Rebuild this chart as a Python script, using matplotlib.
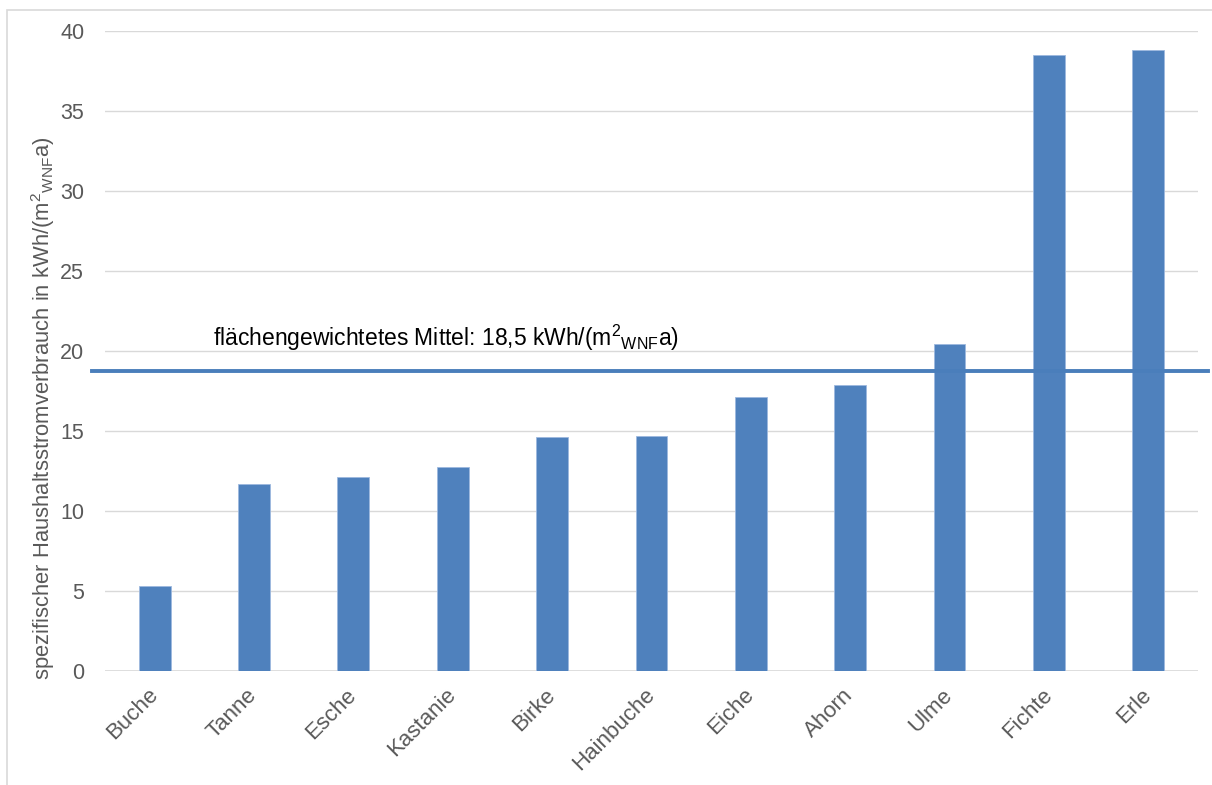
import matplotlib.pyplot as plt
from matplotlib.patches import Rectangle

plt.rcParams['font.family'] = ['Liberation Sans', 'DejaVu Sans']
plt.rcParams['mathtext.fontset'] = 'custom'
plt.rcParams['mathtext.rm'] = 'Liberation Sans'
plt.rcParams['mathtext.it'] = 'Liberation Sans'

# Werte
categories = ['Buche', 'Tanne', 'Esche', 'Kastanie', 'Birke', 'Hainbuche',
              'Eiche', 'Ahorn', 'Ulme', 'Fichte', 'Erle']
values = [5.3, 11.7, 12.1, 12.75, 14.6, 14.7, 17.1, 17.9, 20.45, 38.5, 38.8]
mean_value = 18.75
mean_label = r'flächengewichtetes Mittel: 18,5 kWh/(m$^{2}{}_{\mathrm{WNF}}$a)'
y_label = r'spezifischer Haushaltsstromverbrauch in kWh/(m$^{2}{}_{\mathrm{WNF}}$a)'
y_ticks = [0, 5, 10, 15, 20, 25, 30, 35, 40]

bar_color = '#4F81BD'
text_color = '#595959'
grid_color = '#D9D9D9'

fig = plt.figure(figsize=(12.12, 7.85), dpi=100)
ax = fig.add_axes([0.0866, 0.1452, 0.9018, 0.8153])

# Rahmen um das Diagramm
fig.patches.append(Rectangle((7 / 1212, -0.1), 1.2, 1 - 10 / 785 + 0.1,
                             transform=fig.transFigure, fill=False,
                             edgecolor=grid_color, linewidth=1.2))

x = range(len(categories))
ax.bar(x, values, width=0.32, color=bar_color, edgecolor='#9DB9DF',
       linewidth=0.6, zorder=2)

ax.set_xlim(-0.5, len(categories) - 0.5)
ax.set_ylim(0, 40)
ax.set_yticks(y_ticks)
ax.set_yticklabels([str(t) for t in y_ticks])
ax.grid(axis='y', color=grid_color, linewidth=1, zorder=0)
ax.set_axisbelow(True)
for s in ax.spines.values():
    s.set_visible(False)
ax.axhline(0, color=grid_color, linewidth=1.2, zorder=1)

ax.tick_params(axis='y', length=0, pad=15, labelsize=15.5, labelcolor=text_color)
ax.tick_params(axis='x', length=0, pad=15, labelsize=16, labelcolor=text_color)
ax.set_xticks(list(x))
ax.set_xticklabels(categories, rotation=45, ha='right', va='center',
                   rotation_mode='anchor')

ax.set_ylabel(y_label, fontsize=15.8, color=text_color)
ax.yaxis.set_label_coords(-0.044, 0.41)

# Mittelwertlinie, reicht etwas über die Achse hinaus
ax.plot([-0.635, len(categories) - 0.4], [mean_value, mean_value],
        color='#4A7EBB', linewidth=2.8, clip_on=False, zorder=3)
ax.text(0.583, 20.8, mean_label, fontsize=16.5, color='black', va='center',
        ha='left')

fig.savefig('out.png', dpi=100)
